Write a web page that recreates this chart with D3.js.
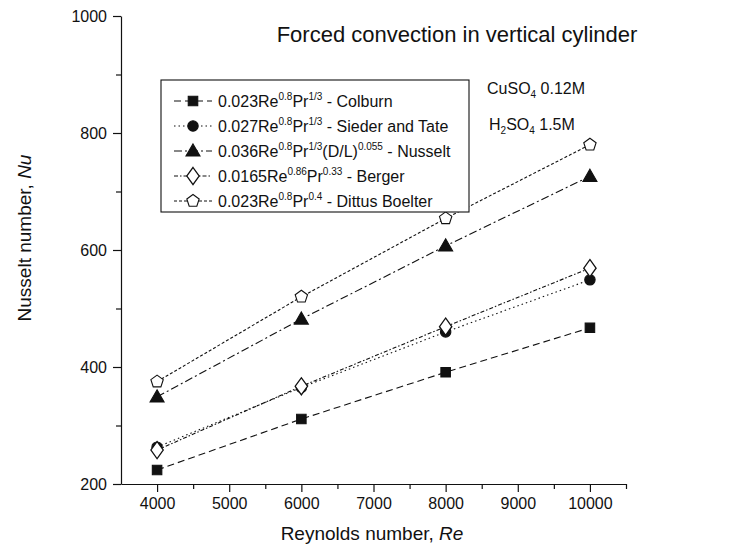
<!DOCTYPE html>
<html>
<head>
<meta charset="utf-8">
<script src="https://cdn.jsdelivr.net/npm/d3@7"></script>
<style>
  body { margin: 0; background: #fff; }
  svg { font-family: Arial, "Liberation Sans", sans-serif; }
  .axis path, .axis line { stroke: #111; stroke-width: 1.2; }
  .axis text { font-size: 16px; fill: #111; font-family: Arial, "Liberation Sans", sans-serif; }
</style>
</head>
<body>
<svg id="chart" width="752" height="558"></svg>
<script>
const reynolds = [4000, 6000, 8000, 10000];
const colburn = [224, 311, 391, 467];
const siederTate = [263, 365, 460, 549];
const nusselt = [349, 482, 607, 726];
const berger = [258, 367, 469, 569];
const dittusBoelter = [375, 520, 654, 780];

const xTicks = [4000, 5000, 6000, 7000, 8000, 9000, 10000];
const xMinor = [4500, 5500, 6500, 7500, 8500, 9500, 10500];
const yTicks = [200, 400, 600, 800, 1000];
const yMinor = [300, 500, 700, 900];

// label pieces: [text, "sup" | "" ]
const seriesInfo = [
  { values: colburn, symbol: "square", dash: "7,4", label: [["0.023Re", ""], ["0.8", "sup"], ["Pr", ""], ["1/3", "sup"], [" - Colburn", ""]] },
  { values: siederTate, symbol: "circle", dash: "1.5,3", label: [["0.027Re", ""], ["0.8", "sup"], ["Pr", ""], ["1/3", "sup"], [" - Sieder and Tate", ""]] },
  { values: nusselt, symbol: "triangle", dash: "8,3,2,3", label: [["0.036Re", ""], ["0.8", "sup"], ["Pr", ""], ["1/3", "sup"], ["(D/L)", ""], ["0.055", "sup"], [" - Nusselt", ""]] },
  { values: berger, symbol: "diamond", dash: "4,2,1.5,2", label: [["0.0165Re", ""], ["0.86", "sup"], ["Pr", ""], ["0.33", "sup"], [" - Berger", ""]] },
  { values: dittusBoelter, symbol: "pentagon", dash: "3,2", label: [["0.023Re", ""], ["0.8", "sup"], ["Pr", ""], ["0.4", "sup"], [" - Dittus Boelter", ""]] }
];

const svg = d3.select("#chart");
const x = d3.scaleLinear().domain([3500, 10500]).range([121, 626]);
const y = d3.scaleLinear().domain([200, 1000]).range([484, 16]);

// axes
svg.append("g").attr("class", "axis")
  .attr("transform", `translate(0,${y(200)})`)
  .call(d3.axisBottom(x).tickValues(xTicks).tickSize(8).tickSizeOuter(0).tickPadding(6).tickFormat(d3.format("d")));
svg.append("g").attr("class", "axis")
  .attr("transform", `translate(0,${y(200)})`)
  .call(d3.axisBottom(x).tickValues(xMinor).tickSize(5).tickSizeOuter(0).tickFormat(""))
  .select(".domain").remove();
svg.append("g").attr("class", "axis")
  .attr("transform", `translate(${x(3500)},0)`)
  .call(d3.axisLeft(y).tickValues(yTicks).tickSize(8).tickSizeOuter(0).tickPadding(6).tickFormat(d3.format("d")));
svg.append("g").attr("class", "axis")
  .attr("transform", `translate(${x(3500)},0)`)
  .call(d3.axisLeft(y).tickValues(yMinor).tickSize(5).tickSizeOuter(0).tickFormat(""))
  .select(".domain").remove();

// axis titles
svg.append("text")
  .attr("x", 372).attr("y", 540)
  .attr("text-anchor", "middle").attr("font-size", 19).attr("fill", "#111")
  .call(t => { t.append("tspan").text("Reynolds number, "); t.append("tspan").attr("font-style", "italic").text("Re"); });
svg.append("text")
  .attr("transform", "translate(31,238) rotate(-90)")
  .attr("text-anchor", "middle").attr("font-size", 19).attr("fill", "#111")
  .call(t => { t.append("tspan").text("Nusselt number, "); t.append("tspan").attr("font-style", "italic").text("Nu"); });

// title
svg.append("text")
  .attr("x", 457).attr("y", 42)
  .attr("text-anchor", "middle").attr("font-size", 22).attr("fill", "#111")
  .text("Forced convection in vertical cylinder");

function drawSymbol(g, kind, cx, cy) {
  const types = { square: d3.symbolSquare, circle: d3.symbolCircle, triangle: d3.symbolTriangle, diamond: d3.symbolDiamond };
  let node;
  if (kind === "pentagon") {
    const r = 6.5;
    const pts = d3.range(5).map(i => {
      const a = -Math.PI / 2 + i * 2 * Math.PI / 5;
      return [cx + r * Math.cos(a), cy + r * Math.sin(a)];
    });
    node = g.append("path").attr("d", "M" + pts.join("L") + "Z");
  } else {
    const sizes = { square: 90, circle: 85, triangle: 85, diamond: 85 };
    node = g.append("path")
      .attr("d", d3.symbol().type(types[kind]).size(sizes[kind])())
      .attr("transform", kind === "diamond"
        ? `translate(${cx},${cy}) scale(1.25,1)`
        : `translate(${cx},${cy + (kind === "triangle" ? 1 : 0)})`);
  }
  const open = kind === "diamond" || kind === "pentagon";
  node.attr("fill", open ? "#fff" : "#111").attr("stroke", "#111").attr("stroke-width", 1.1);
}

const line = d3.line().x((d, i) => x(reynolds[i])).y(d => y(d));

// draw lines then markers
seriesInfo.forEach(s => {
  svg.append("path").datum(s.values)
    .attr("d", line).attr("fill", "none")
    .attr("stroke", "#111").attr("stroke-width", 1.1)
    .attr("stroke-dasharray", s.dash);
});
seriesInfo.forEach(s => {
  const g = svg.append("g");
  s.values.forEach((v, i) => drawSymbol(g, s.symbol, x(reynolds[i]), y(v)));
});

// legend
const legend = svg.append("g");
legend.append("rect")
  .attr("x", 161).attr("y", 80).attr("width", 308).attr("height", 132)
  .attr("fill", "#fff").attr("stroke", "#111").attr("stroke-width", 1.1);
seriesInfo.forEach((s, i) => {
  const cy = 101 + i * 25;
  legend.append("line").attr("x1", 174).attr("x2", 212).attr("y1", cy).attr("y2", cy)
    .attr("stroke", "#111").attr("stroke-width", 1.1).attr("stroke-dasharray", s.dash);
  drawSymbol(legend, s.symbol, 193, cy);
  const t = legend.append("text").attr("x", 218).attr("y", cy + 6)
    .attr("font-size", 16).attr("fill", "#111");
  s.label.forEach(([txt, kind]) => {
    if (kind === "sup") {
      t.append("tspan").attr("font-size", 10).attr("dy", -7).text(txt);
    } else {
      const ts = t.append("tspan").text(txt);
      if (t.node().childNodes.length > 1) ts.attr("dy", 7);
    }
  });
});

// solution annotation
function chem(parts, xx, yy) {
  const t = svg.append("text").attr("x", xx).attr("y", yy).attr("font-size", 16).attr("fill", "#111");
  let shifted = false;
  parts.forEach(([txt, kind]) => {
    const ts = t.append("tspan").text(txt);
    if (kind === "sub") { ts.attr("font-size", 10).attr("dy", 4); shifted = true; }
    else if (shifted) { ts.attr("dy", -4); shifted = false; }
  });
}
chem([["CuSO", ""], ["4", "sub"], [" 0.12M", ""]], 487, 94);
chem([["H", ""], ["2", "sub"], ["SO", ""], ["4", "sub"], ["  1.5M", ""]], 489, 130);
</script>
</body>
</html>
